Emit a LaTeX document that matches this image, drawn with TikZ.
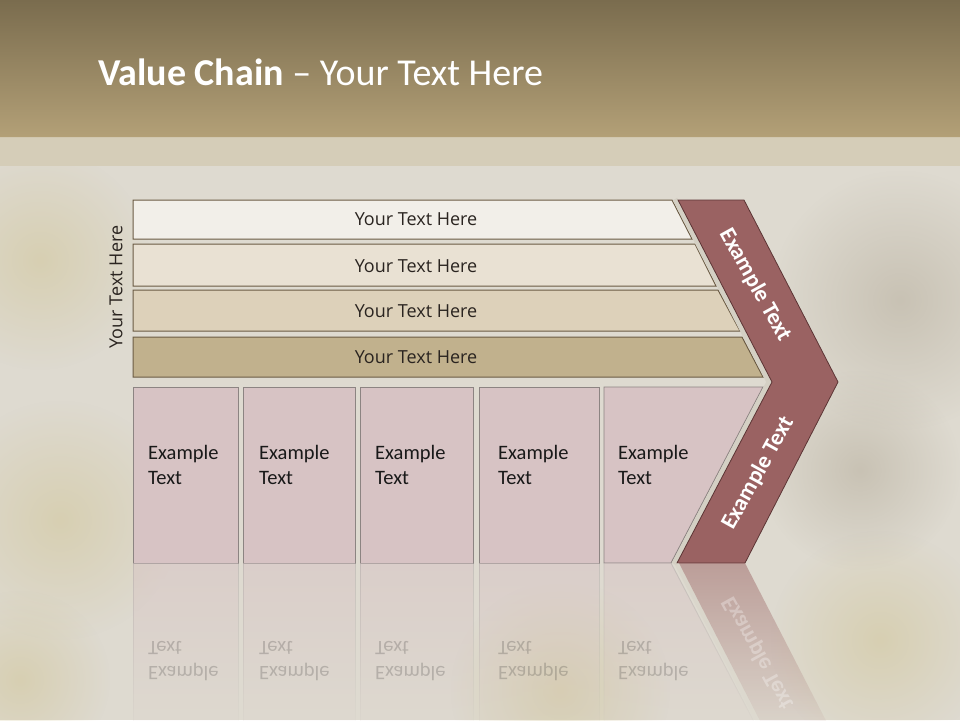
\documentclass[tikz,border=0pt]{standalone}
\usepackage{fontspec}
\setmainfont{Carlito}
\newfontfamily\osans{Open Sans}
\usetikzlibrary{fadings}
\definecolor{bgA}{HTML}{DEDAD0}
\definecolor{blotch}{HTML}{CDBF85}
\definecolor{streak}{HTML}{A89E8A}
\definecolor{titleTop}{HTML}{7A6C4E}
\definecolor{titleBot}{HTML}{B3A077}
\definecolor{bandCol}{HTML}{D5CCB6}
\definecolor{barOne}{HTML}{F2EFE9}
\definecolor{barTwo}{HTML}{E9E1D3}
\definecolor{barThree}{HTML}{DDD1BA}
\definecolor{barFour}{HTML}{C1B18D}
\definecolor{barLine}{HTML}{6B5B44}
\definecolor{boxFill}{HTML}{D7C3C4}
\definecolor{boxLine}{HTML}{8C8482}
\definecolor{chevFill}{HTML}{9A6262}
\definecolor{chevLine}{HTML}{5C3535}
\definecolor{haloCol}{HTML}{D4D0C4}
\definecolor{txtDark}{HTML}{2A2420}
\tikzfading[name=reflfade, top color=transparent!50, middle color=transparent!85, bottom color=transparent!100]
\tikzfading[name=softspot, inner color=transparent!60, outer color=transparent!100]
\begin{document}
\begin{tikzpicture}[x=1pt,y=-1pt,
  barshape/.style={draw=barLine, line width=1pt},
  boxshape/.style={draw=boxLine, fill=boxFill, line width=0.9pt},
  bartext/.style={font=\osans\fontsize{18}{22}\selectfont, text=txtDark, inner sep=0pt},
  boxtext/.style={font=\fontsize{20.5}{25}\selectfont, text=black!90, align=left, inner sep=0pt, anchor=north west},
  chevtext/.style={font=\bfseries\fontsize{23}{27}\selectfont, text=white, inner sep=0pt},
  refltext/.style={boxtext, yscale=-1, opacity=0.2},
  reflbox/.style={draw=boxLine!70, fill=boxFill, path fading=reflfade, line width=0.9pt},
  spot/.style={path fading=softspot}]
\useasboundingbox (0,0) rectangle (960,720);
% background
\fill[bgA] (0,0) rectangle (960,720);
\fill[blotch, spot] (40,260) circle (110);
\fill[blotch, spot] (60,520) circle (120);
\fill[blotch, spot] (20,680) circle (90);
\fill[blotch, spot] (560,690) circle (110);
\fill[blotch, spot] (880,640) circle (110);
\fill[streak, spot] (900,300) circle (130);
\fill[streak, spot] (860,470) circle (100);
\shade[top color=titleTop, bottom color=titleBot] (0,0) rectangle (960,137);
\fill[bandCol, opacity=0.9] (0,137) rectangle (960,166);
\node[anchor=base west, text=white, font=\fontsize{38}{45}\selectfont, inner sep=0pt] (title) at (98,85) {\textbf{Value Chain} -- Your Text Here};
% bars
\fill[barOne]   (133,200) -- (672,200) -- (692,239) -- (133,239) -- cycle;
\draw[barshape] (133,200) -- (672,200) -- (692,239) -- (133,239) -- cycle;
\fill[barTwo]   (133,244) -- (695,244) -- (716,286) -- (133,286) -- cycle;
\draw[barshape] (133,244) -- (695,244) -- (716,286) -- (133,286) -- cycle;
\fill[barThree] (133,290) -- (718,290) -- (740,331) -- (133,331) -- cycle;
\draw[barshape] (133,290) -- (718,290) -- (740,331) -- (133,331) -- cycle;
\fill[barFour]  (133,337) -- (742,337) -- (763,377) -- (133,377) -- cycle;
\draw[barshape] (133,337) -- (742,337) -- (763,377) -- (133,377) -- cycle;
\node[bartext] (b1) at (416,219) {Your Text Here};
\node[bartext] (b2) at (416,266) {Your Text Here};
\node[bartext] (b3) at (416,311) {Your Text Here};
\node[bartext] (b4) at (416,357) {Your Text Here};
\node[bartext, rotate=90] (side) at (116,287) {Your Text Here};
% boxes
\draw[boxshape] (133,387) rectangle (238,563);
\draw[boxshape] (243,387) rectangle (355,563);
\draw[boxshape] (360,387) rectangle (473,563);
\draw[boxshape] (479,387) rectangle (599,563);
\draw[boxshape] (604,387) -- (763,387) -- (671,563) -- (604,563) -- cycle;
\node[boxtext] (t1) at (148,445) {Example\\Text};
\node[boxtext] (t2) at (259,445) {Example\\Text};
\node[boxtext] (t3) at (375,445) {Example\\Text};
\node[boxtext] (t4) at (498,445) {Example\\Text};
\node[boxtext] (t5) at (618,445) {Example\\Text};
% chevron
\draw[haloCol, line width=5pt, line join=round] (675,199) -- (769,382) -- (674,564);
\draw[fill=chevFill, draw=chevLine, line width=0.8pt, line join=miter]
  (678,200) -- (744,200) -- (838,382) -- (745,563) -- (677,563) -- (772,382) -- cycle;
\node[chevtext, rotate=-61] (c1) at (755,285) {Example Text};
\node[chevtext, rotate=61] (c2) at (758,473) {Example Text};
% reflection
\path[reflbox] (133,563) rectangle (238,739);
\path[reflbox] (243,563) rectangle (355,739);
\path[reflbox] (360,563) rectangle (473,739);
\path[reflbox] (479,563) rectangle (599,739);
\path[reflbox] (604,563) -- (671,563) -- (763,739) -- (604,739) -- cycle;
\path[fill=haloCol, path fading=reflfade] (674,563) -- (679,563) -- (772,744) -- (767,744) -- cycle;
\path[fill=chevFill, path fading=reflfade] (679,563) -- (745,563) -- (838,744) -- (772,744) -- cycle;
\node[refltext] (r1) at (148,681) {Example\\Text};
\node[refltext] (r2) at (259,681) {Example\\Text};
\node[refltext] (r3) at (375,681) {Example\\Text};
\node[refltext] (r4) at (498,681) {Example\\Text};
\node[refltext] (r5) at (618,681) {Example\\Text};
\node[chevtext, rotate=-61, yscale=-1, opacity=0.3] (rc) at (758,653) {Example Text};
\end{tikzpicture}
\end{document}
